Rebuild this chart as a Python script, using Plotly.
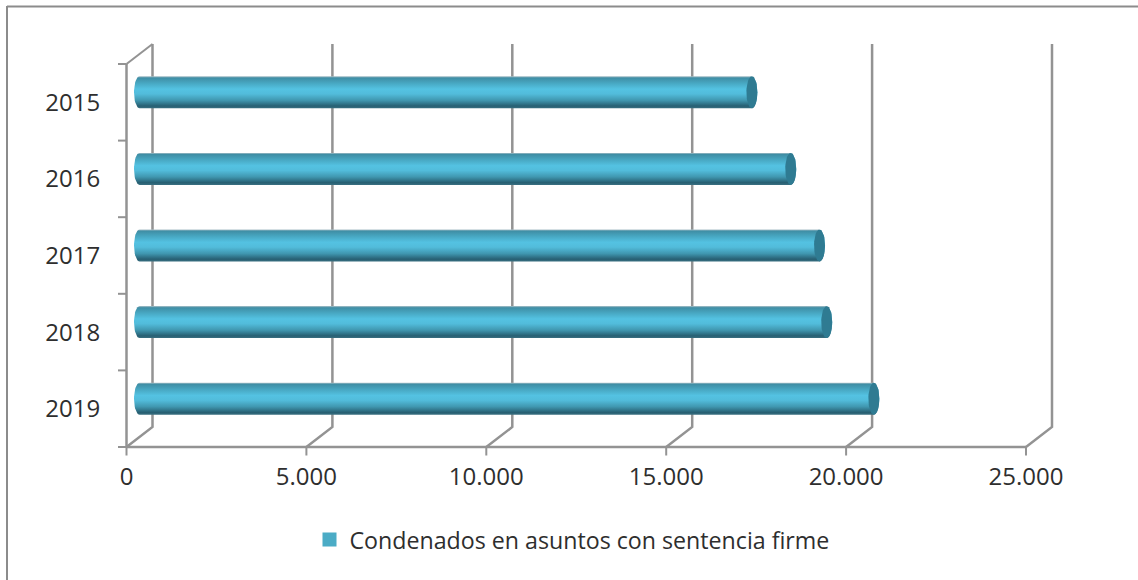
import numpy as np
import plotly.graph_objects as go

categories = ["2015", "2016", "2017", "2018", "2019"]
values = [17020, 18100, 18900, 19100, 20410]
series_name = "Condenados en asuntos con sentencia firme"
x_ticks = [0, 5000, 10000, 15000, 20000, 25000]
x_tick_labels = ["0", "5.000", "10.000", "15.000", "20.000", "25.000"]
y_slots = [0, 1, 2, 3, 4, 5]

W, H = 1138, 580
X0, Y0 = 126.5, 447.0                       # pixel position of the front axes' origin
L, R, T, B = 117.0, 1055.0, 42.0, 457.0     # plot area in pixels
px_per_x = (1026 - 126.5) / 25000
px_per_y = (447 - 64) / 5
DX = 26 / px_per_x      # depth of the 3D box in data units
DY = 20 / px_per_y
TICK_X = 8.5 / px_per_x
TICK_Y = 8.5 / px_per_y
GRID = "#939393"
TEXT = "#2e2e2e"
FONT = "Open Sans"
TICK_SIZE = 24

fig = go.Figure()


def line(xs, ys, width=2.5):
    fig.add_trace(go.Scatter(x=xs, y=ys, mode="lines", showlegend=False, hoverinfo="skip",
                             line=dict(color=GRID, width=width)))


# walls and floor of the 3D box
for t in x_ticks:
    line([t, t + DX, t + DX], [0, DY, 5 + DY])
    line([t, t], [0, -TICK_Y], 2)
for s in y_slots:
    line([0, -TICK_X], [s, s], 2)
line([0, x_ticks[-1]], [0, 0])
line([0, 0], [0, 5])
line([0, DX], [5, 5 + DY], 2)

# cylinders
rx = 5.5 / px_per_x
half = 16 / px_per_y
theta = np.linspace(-np.pi / 2, np.pi / 2, 25)
for i, (cat, v) in enumerate(zip(categories, values)):
    yc = 4.5 - i + DY / 2
    x0 = DX / 2
    xe = v + DX / 2
    xs = np.concatenate([xe + rx * np.cos(theta), x0 - rx * np.cos(theta[::-1])])
    ys = np.concatenate([yc + half * np.sin(theta), yc + half * np.sin(theta[::-1])])
    fig.add_trace(go.Scatter(
        x=np.append(xs, xs[0]), y=np.append(ys, ys[0]), mode="lines", fill="toself",
        line=dict(width=0), showlegend=False, hoverinfo="skip",
        fillgradient=dict(
            type="vertical", start=yc + half, stop=yc - half,
            colorscale=[[0, "#a9c0c8"], [0.05, "#3f8ea5"], [0.22, "#48a8c3"], [0.4, "#54c2e2"],
                        [0.55, "#52bcdb"], [0.75, "#4097b0"], [0.93, "#275f72"], [1, "#3a7081"]],
        ),
    ))
    t2 = np.linspace(0, 2 * np.pi, 49)
    fig.add_trace(go.Scatter(
        x=xe + rx * np.cos(t2), y=yc + half * np.sin(t2), mode="lines", fill="toself",
        fillcolor="#2f7b92", line=dict(width=0), showlegend=False, hoverinfo="skip",
    ))

# legend entry
fig.add_trace(go.Scatter(x=[None], y=[None], mode="markers", name=series_name,
                         marker=dict(symbol="square", size=14, color="#4bacc6")))

x_range = [(L - X0) / px_per_x, (R - X0) / px_per_x]
y_range = [(Y0 - B) / px_per_y, (Y0 - T) / px_per_y]
fig.update_layout(
    width=W, height=H, autosize=False,
    margin=dict(l=L, r=W - R, t=T, b=H - B, pad=0),
    paper_bgcolor="white", plot_bgcolor="white",
    font=dict(family=FONT, size=TICK_SIZE, color=TEXT),
    xaxis=dict(range=x_range, tickmode="array", tickvals=x_ticks, ticktext=x_tick_labels,
               showgrid=False, zeroline=False, showline=False, ticks="",
               ticklabelstandoff=3,
               tickfont=dict(family=FONT, size=TICK_SIZE, color=TEXT)),
    yaxis=dict(range=y_range, tickmode="array", tickvals=[4.5, 3.5, 2.5, 1.5, 0.5],
               ticktext=categories, showgrid=False, zeroline=False, showline=False,
               ticks="outside", ticklen=11, tickcolor="rgba(0,0,0,0)",
               tickfont=dict(family=FONT, size=TICK_SIZE, color=TEXT)),
    legend=dict(orientation="h", x=0.5 + 3 / W, xref="container", xanchor="center", y=40 / H,
                yref="container", yanchor="middle", font=dict(family=FONT, size=23.2, color=TEXT)),
    shapes=[
        dict(type="line", xref="paper", yref="paper", x0=(7 - L) / (R - L), x1=(W - L) / (R - L),
             y0=(B - 6.5) / (B - T), y1=(B - 6.5) / (B - T), line=dict(color="#8c8c8c", width=2)),
        dict(type="line", xref="paper", yref="paper", x0=(7 - L) / (R - L), x1=(7 - L) / (R - L),
             y0=(B - 6) / (B - T), y1=(B - H) / (B - T), line=dict(color="#8c8c8c", width=2)),
    ],
)

fig.write_html("out.html", config={"displayModeBar": False},
               post_script="document.body.style.margin='0';document.body.style.overflow='hidden';")
